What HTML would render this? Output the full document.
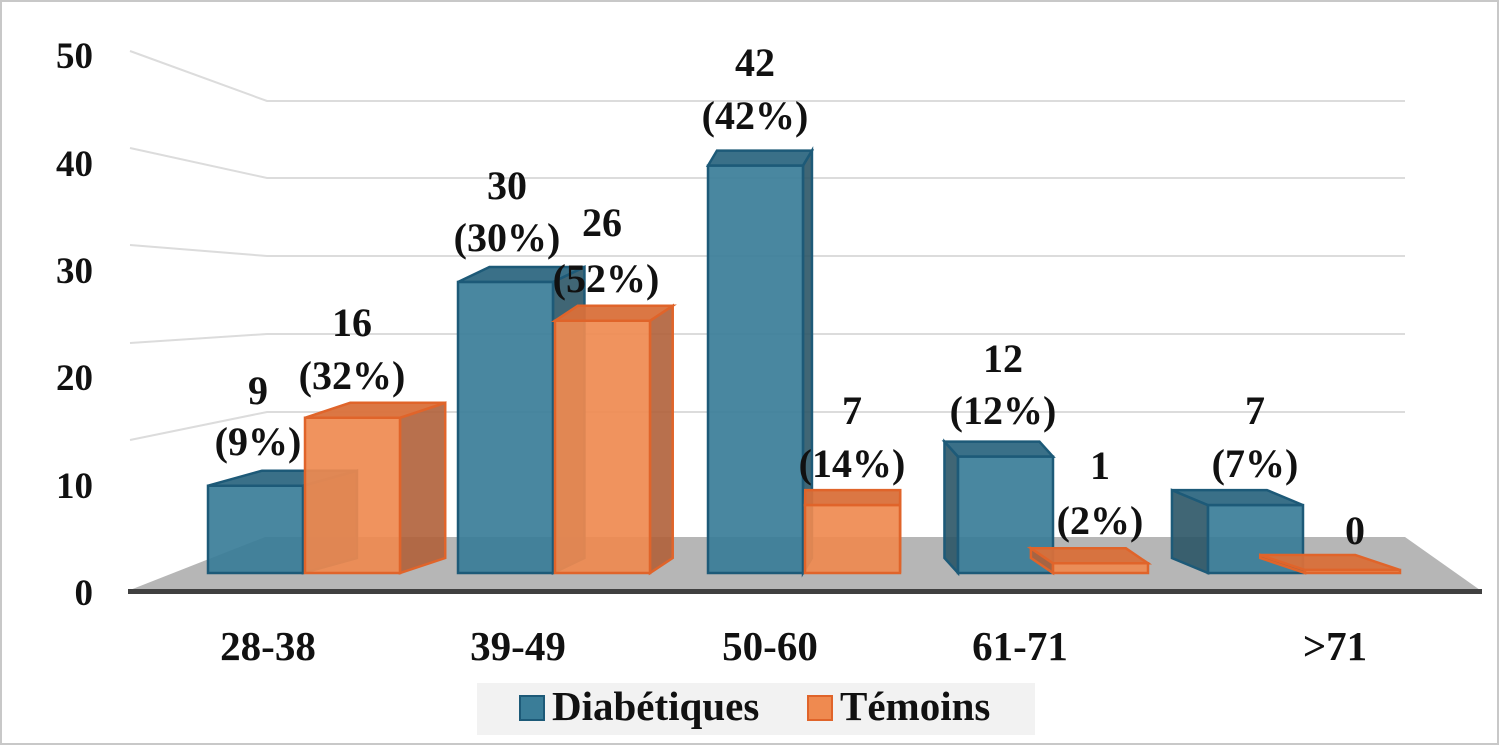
<!DOCTYPE html>
<html><head><meta charset="utf-8"><style>
html,body{margin:0;padding:0;background:#fff}
svg{display:block}
text{font-family:"Liberation Serif",serif;font-weight:bold;fill:#111}
</style></head><body>
<svg id="s" width="1500" height="746" viewBox="0 0 1500 746" xmlns="http://www.w3.org/2000/svg">
<rect x="1" y="1" width="1497" height="743" fill="#fff" stroke="#c8c8c8" stroke-width="2"/>
<g stroke="#dcdcdc" stroke-width="2" fill="none">
<polyline points="130,51 267,101 1405,101"/>
<polyline points="130,148 267,178 1405,178"/>
<polyline points="130,245 267,256 1405,256"/>
<polyline points="130,343 267,334 1405,334"/>
<polyline points="130,440 267,412 1405,412"/>
</g>
<polygon points="265,537 1405,537 1480,590 130,590" fill="#b6b6b6"/>
<rect x="128" y="589" width="1354" height="5" fill="#404040"/>
<g id="bars"></g>
<g font-size="37" text-anchor="end">
<text x="93" y="68">50</text><text x="93" y="176">40</text><text x="93" y="283">30</text>
<text x="93" y="390">20</text><text x="93" y="498">10</text><text x="93" y="605">0</text>
</g>
<g font-size="41" text-anchor="middle">
<text x="268" y="660">28-38</text><text x="518" y="660">39-49</text><text x="770" y="660">50-60</text>
<text x="1020" y="660">61-71</text><text x="1335" y="660">&gt;71</text>
</g>
<g font-size="40" text-anchor="middle">
<text x="258" y="404">9</text><text x="258" y="455">(9%)</text>
<text x="352" y="336">16</text><text x="352" y="389">(32%)</text>
<text x="507" y="199">30</text><text x="507" y="251">(30%)</text>
<text x="602" y="236">26</text><text x="606" y="292">(52%)</text>
<text x="755" y="76">42</text><text x="755" y="129">(42%)</text>
<text x="852" y="424">7</text><text x="852" y="477">(14%)</text>
<text x="1003" y="372">12</text><text x="1003" y="424">(12%)</text>
<text x="1100" y="479">1</text><text x="1100" y="534">(2%)</text>
<text x="1255" y="424">7</text><text x="1255" y="477">(7%)</text>
<text x="1355" y="544">0</text>
</g>
<rect x="477" y="683" width="558" height="52" fill="#f2f2f2"/>
<rect x="520" y="696" width="24" height="24" fill="#3a7d98" stroke="#1d5a78" stroke-width="2"/>
<rect x="808" y="696" width="24" height="24" fill="#ef8a50" stroke="#e0642a" stroke-width="2"/>
<text x="552" y="720" font-size="41">Diabétiques</text>
<text x="840" y="720" font-size="41">Témoins</text>
</svg>
<script>
var g=document.getElementById('bars'),NS='http://www.w3.org/2000/svg';
function poly(p,f,s,o){var e=document.createElementNS(NS,'polygon');e.setAttribute('points',p.map(function(a){return a.join(',')}).join(' '));e.setAttribute('fill',f);e.setAttribute('stroke',s);e.setAttribute('stroke-width','2.5');e.setAttribute('fill-opacity',o);g.appendChild(e);}
var bars=[[208,9,0],[305,16,1],[458,30,0],[555,26,1],[708,42,0],[805,7,1],[958,12,0],[1053,1,1],[1208,7,0],[1305,0,1]];
var base=573,k=9.7,w=95,dy=-15;
bars.forEach(function(b){
 var x=b[0],h=Math.max(b[1]*k,3),t=base-h,c=x+w/2,dx=54-0.09*(c-255);
 var col=b[2]?{f:'#ef8a50',top:'#d9703a',side:'#b0603a',s:'#e0642a'}:{f:'#3a7d98',top:'#2f6882',side:'#2b5566',s:'#1d5a78'};
 if(dx>0) poly([[x+w,t],[x+w+dx,t+dy],[x+w+dx,base+dy],[x+w,base]],col.side,col.s,0.9);
 else poly([[x,t],[x+dx,t+dy],[x+dx,base+dy],[x,base]],col.side,col.s,0.9);
 poly([[x,t],[x+dx,t+dy],[x+w+dx,t+dy],[x+w,t]],col.top,col.s,0.95);
 poly([[x,t],[x+w,t],[x+w,base],[x,base]],col.f,col.s,0.92);
});
</script>
</body></html>
